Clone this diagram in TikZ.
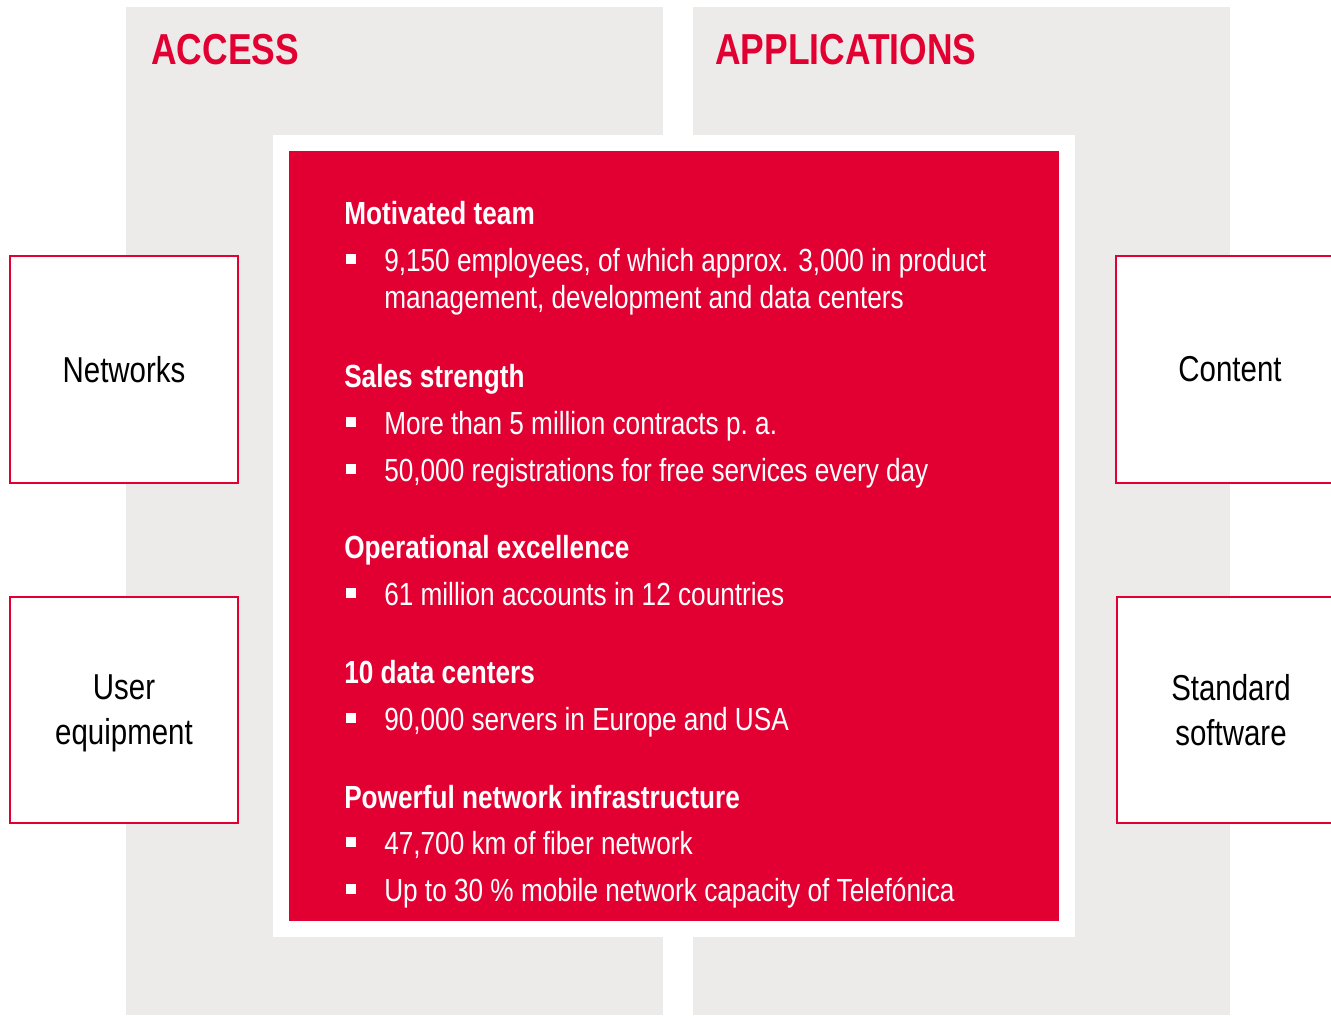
\documentclass[tikz,border=0pt]{standalone}
\usepackage{fontspec}
\setmainfont[FakeStretch=0.818]{Liberation Sans}
\usetikzlibrary{calc}
\definecolor{panelgray}{RGB}{236,235,233}
\definecolor{brandred}{RGB}{226,0,51}
\tikzset{
  sidebox/.style={draw=brandred, line width=1.5pt, fill=white, inner sep=0pt,
    minimum width=171pt, minimum height=170pt, align=center,
    font=\fontsize{27}{33.75}\selectfont},
  paneltitle/.style={anchor=base west, inner sep=0pt, text=brandred,
    font=\bfseries\fontsize{32.5}{39}\selectfont},
  grouphead/.style={anchor=base west, inner sep=0pt, text=white,
    font=\bfseries\fontsize{24}{29}\selectfont},
  bodyline/.style={anchor=base west, inner sep=0pt, text=white,
    font=\fontsize{24}{29}\selectfont},
  sqbullet/.style={fill=white, inner sep=0pt, minimum size=7.5pt}
}
% one bullet line: name, baseline, text
\def\bulletline#1#2#3{%
  \node[sqbullet] (#1-sq) at (351,#2-12) {};
  \node[bodyline] (#1) at (384,#2) {#3};}

\begin{document}
\begin{tikzpicture}[x=0.75pt, y=-0.75pt]
			%%%%% START %%%%%
			\useasboundingbox (0,0) rectangle (1331,1015);
			\clip (0,0) rectangle (1331,1015);
			
			% grey panels
			\fill[panelgray] (126,7) rectangle (663,1015);
			\fill[panelgray] (693,7) rectangle (1230,1015);
			\node[paneltitle] (access) at (151,64) {ACCESS};
			\node[paneltitle] (apps) at (715,64) {APPLICATIONS};
			
			% centre block
			\fill[white] (273,135) rectangle (1075,937);
			\fill[brandred] (289,151) rectangle (1059,921);
			
			\node[grouphead] (team) at (344,224) {Motivated team};
			\bulletline{staff}{271}{9,150 employees, of which approx. 3,000 in product}
			\node[bodyline] (staff2) at (384,308) {management, development and data centers};
			
			\node[grouphead] (sales) at (344,387) {Sales strength};
			\bulletline{contracts}{434}{More than 5 million contracts p.\ a.}
			\bulletline{regs}{481}{50,000 registrations for free services every day}
			
			\node[grouphead] (ops) at (344,558) {Operational excellence};
			\bulletline{accounts}{605}{61 million accounts in 12 countries}
			
			\node[grouphead] (dc) at (344,683) {10 data centers};
			\bulletline{servers}{730}{90,000 servers in Europe and USA}
			
			\node[grouphead] (infra) at (344,808) {Powerful network infrastructure};
			\bulletline{fiber}{854}{47,700 km of fiber network}
			\bulletline{mobile}{901}{Up to 30 \% mobile network capacity of Telefónica}
			
			% side boxes
			\node[sidebox] (networks) at (124,369.5) {Networks};
			\node[sidebox] (userequip) at (124,710) {User\\\smash{equipment}};
			\node[sidebox] (content) at (1230,369.5) {Content};
			\node[sidebox] (stdsoft) at (1231,710) {Standard\\\smash{software}};
			
			%%%%% END %%%%%
\end{tikzpicture}
\end{document}
